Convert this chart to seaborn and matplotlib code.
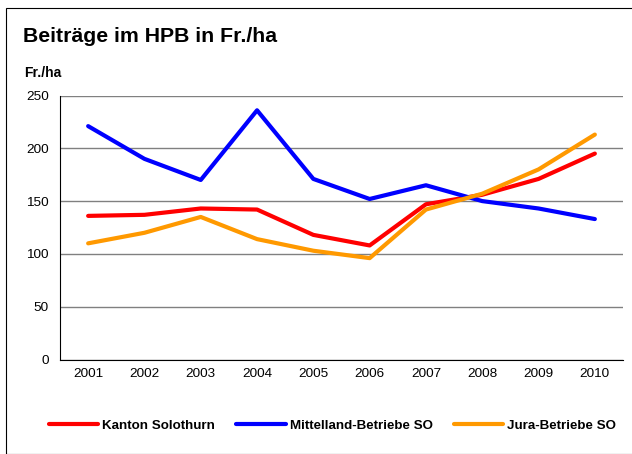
import matplotlib
matplotlib.use('Agg')
import matplotlib.pyplot as plt
import matplotlib.patches as mpatches
import seaborn as sns
import pandas as pd
import numpy as np

# data
jahre = ['2001', '2002', '2003', '2004', '2005', '2006', '2007', '2008', '2009', '2010']
kanton = [136, 137, 143, 142, 118, 108, 147, 156, 171, 195]
mittelland = [221, 190, 170, 236, 171, 152, 165, 150, 143, 133]
jura = [110, 120, 135, 114, 103, 96, 142, 157, 180, 213]
serien = ['Kanton Solothurn', 'Mittelland-Betriebe SO', 'Jura-Betriebe SO']
farben = ['#FF0000', '#0000FF', '#FF9900']

df = pd.DataFrame({
    'jahr': list(range(len(jahre))) * 3,
    'wert': kanton + mittelland + jura,
    'serie': [s for s in serien for _ in jahre],
})

sns.set_style('white')
plt.rcParams['font.family'] = ['Liberation Sans', 'DejaVu Sans']
plt.rcParams['text.color'] = 'black'
plt.rcParams['xtick.color'] = 'black'
plt.rcParams['ytick.color'] = 'black'

fig = plt.figure(figsize=(6.32, 4.54), dpi=100)
W, H = 632, 454
ax = fig.add_axes([60 / W, 1 - 359.5 / H, 563 / W, 264 / H])

# outer chart frame
fig.patches.append(mpatches.Rectangle((6 / W, 0), 1, 1 - 8 / H, transform=fig.transFigure,
                                      fill=False, edgecolor='black', linewidth=0.8))

sns.lineplot(data=df, x='jahr', y='wert', hue='serie', palette=farben, hue_order=serien,
             linewidth=3, ax=ax, legend=False)
for l in ax.lines:
    l.set_solid_capstyle('round')

ax.set_xlim(-0.5, len(jahre) - 0.5)
ax.set_ylim(0, 250)
ax.set_yticks(np.arange(0, 251, 50))
ax.set_xticks(range(len(jahre)))
ax.set_xticklabels(jahre)
ax.set_xticks(np.arange(-0.5, len(jahre), 1), minor=True)
ax.tick_params(axis='x', which='major', length=0, pad=6, labelsize=9.7)
ax.tick_params(axis='x', which='minor', length=4, width=0.8, direction='out', color='black')
ax.tick_params(axis='y', length=4, width=0.8, direction='out', color='black', labelsize=9.7, pad=4)
ax.yaxis.grid(True, color='#808080', linewidth=1)
ax.set_axisbelow(True)
for s in ['top', 'right']:
    ax.spines[s].set_visible(False)
for s in ['left', 'bottom']:
    ax.spines[s].set_color('black')
    ax.spines[s].set_linewidth(0.8)
ax.set_xlabel('')
ax.set_ylabel('')

fig.text(23 / W, 1 - 36 / H, 'Beiträge im HPB in Fr./ha', fontsize=15.3, fontweight='bold',
         va='center', ha='left')
fig.text(24 / W, 1 - 73 / H, 'Fr./ha', fontsize=10, fontweight='bold', va='center', ha='left')

handles = [plt.Line2D([], [], color=c, linewidth=3) for c in farben]
fig.legend(handles, serien, loc='center', bbox_to_anchor=(332.5 / W, 1 - 426 / H), ncol=3,
           frameon=False, prop={'weight': 'bold', 'size': 9.6}, handlelength=3.7,
           handletextpad=0.3, columnspacing=1.6)

fig.savefig('out.png', dpi=100)
